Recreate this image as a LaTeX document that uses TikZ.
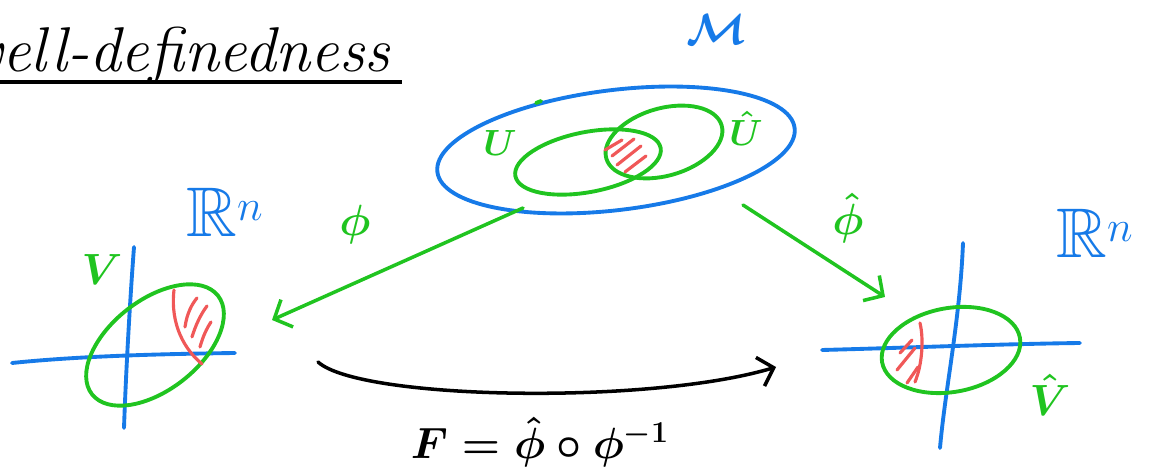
\documentclass[tikz,border=0pt]{standalone}
\usepackage{amssymb}
\usetikzlibrary{arrows.meta,shapes.geometric}
\definecolor{penblue}{RGB}{22,122,232}
\definecolor{pengreen}{RGB}{32,196,32}
\definecolor{penred}{RGB}{240,88,88}
\begin{document}
\begin{tikzpicture}[x=0.02cm,y=-0.02cm,
  set/.style={ellipse,inner sep=0pt,line width=2.2pt},
  bluepen/.style={draw=penblue,line width=2.2pt,line cap=round},
  greenpen/.style={draw=pengreen,line width=2.2pt,line cap=round},
  redpen/.style={draw=penred,line width=1.8pt,line cap=round},
  lbl/.style={inner sep=0pt},
  maparrow/.style={line width=2pt,line cap=round,-{Straight Barb[length=8pt,width=17pt,line width=2pt]}}]
\useasboundingbox (0,0) rectangle (1150,475);

% title
\node[lbl,anchor=base east,font=\fontsize{36}{40}\selectfont\itshape] (title) at (390,72) {well-definedness};
\draw[line width=1.8pt] (-5,82) -- (402,82);

% manifold M
\node[set,draw=penblue,minimum width=7.2cm,minimum height=2.4cm,rotate=7] (M) at (616,150) {};
\node[lbl,text=penblue,font=\fontsize{32}{34}\selectfont\boldmath] (Mlbl) at (717,30) {$\mathcal{M}$};
\node[set,draw=pengreen,minimum width=2.96cm,minimum height=1.2cm,rotate=11] (U) at (588,162) {};
\node[set,draw=pengreen,minimum width=2.4cm,minimum height=1.35cm,rotate=16] (Uh) at (664,142) {};
\node[lbl,text=pengreen,font=\fontsize{22}{24}\selectfont\boldmath] (Ulbl) at (500,143) {$U$};
\node[lbl,text=pengreen,font=\fontsize{22}{24}\selectfont\boldmath] (Uhlbl) at (746,128) {$\hat U$};
\draw[greenpen] (536,103) -- (541,101);
\draw[redpen] (612,156) -- (634,139);
\draw[redpen] (617,165) -- (641,146);
\draw[redpen] (625,172) -- (646,156);
\draw[redpen] (605,150) -- (622,140);

% left chart
\draw[bluepen] (12,363) .. controls (80,356) and (160,354) .. (235,353);
\draw[bluepen] (134,247) .. controls (130,300) and (126,370) .. (124,428);
\node[set,draw=pengreen,minimum width=3.2cm,minimum height=1.8cm,rotate=38] (V) at (155,345) {};
\node[lbl,text=penblue,font=\fontsize{40}{42}\selectfont] (Rl) at (225,212) {$\mathbb{R}^n$};
\node[lbl,text=pengreen,font=\fontsize{24}{26}\selectfont\boldmath] (Vlbl) at (102,270) {$V$};
\draw[redpen] (174,290) .. controls (170,325) and (185,350) .. (202,364);
\draw[redpen] (185,327) .. controls (187,313) and (192,304) .. (197,298);
\draw[redpen] (192,337) .. controls (196,324) and (201,314) .. (207,306);
\draw[redpen] (200,347) .. controls (203,336) and (207,328) .. (211,322);

% right chart
\draw[bluepen] (822,350) .. controls (900,348) and (1000,344) .. (1080,343);
\draw[bluepen] (963,243) .. controls (960,320) and (945,390) .. (940,448);
\node[set,draw=pengreen,minimum width=2.8cm,minimum height=1.68cm,rotate=10] (Vh) at (951,350) {};
\node[lbl,text=penblue,font=\fontsize{40}{42}\selectfont] (Rr) at (1095,233) {$\mathbb{R}^n$};
\node[lbl,text=pengreen,font=\fontsize{24}{26}\selectfont\boldmath] (Vhlbl) at (1050,395) {$\hat V$};
\draw[redpen] (920,323) .. controls (924,340) and (922,365) .. (915,382);
\draw[redpen] (900,353) -- (912,340);
\draw[redpen] (897,370) -- (915,348);
\draw[redpen] (907,383) -- (918,367);

% maps
\coordinate (phiS) at (523,208);
\coordinate (phiE) at (272,320);
\coordinate (phihS) at (743,205);
\coordinate (phihE) at (885,297);
\coordinate (FS) at (318,362);
\coordinate (FE) at (776,367);
\draw[maparrow,pengreen] (phiS) -- (phiE);
\draw[maparrow,pengreen] (phihS) -- (phihE);
\draw[maparrow,black] (FS) .. controls (360,400) and (650,405) .. (FE);
\node[lbl,text=pengreen,font=\fontsize{26}{28}\selectfont\boldmath] (philbl) at (355,225) {$\phi$};
\node[lbl,text=pengreen,font=\fontsize{26}{28}\selectfont\boldmath] (phihlbl) at (848,218) {$\hat\phi$};
\node[lbl,font=\fontsize{24}{26}\selectfont\boldmath] (Flbl) at (540,442) {$F=\hat\phi\circ\phi^{-1}$};
\end{tikzpicture}
\end{document}
